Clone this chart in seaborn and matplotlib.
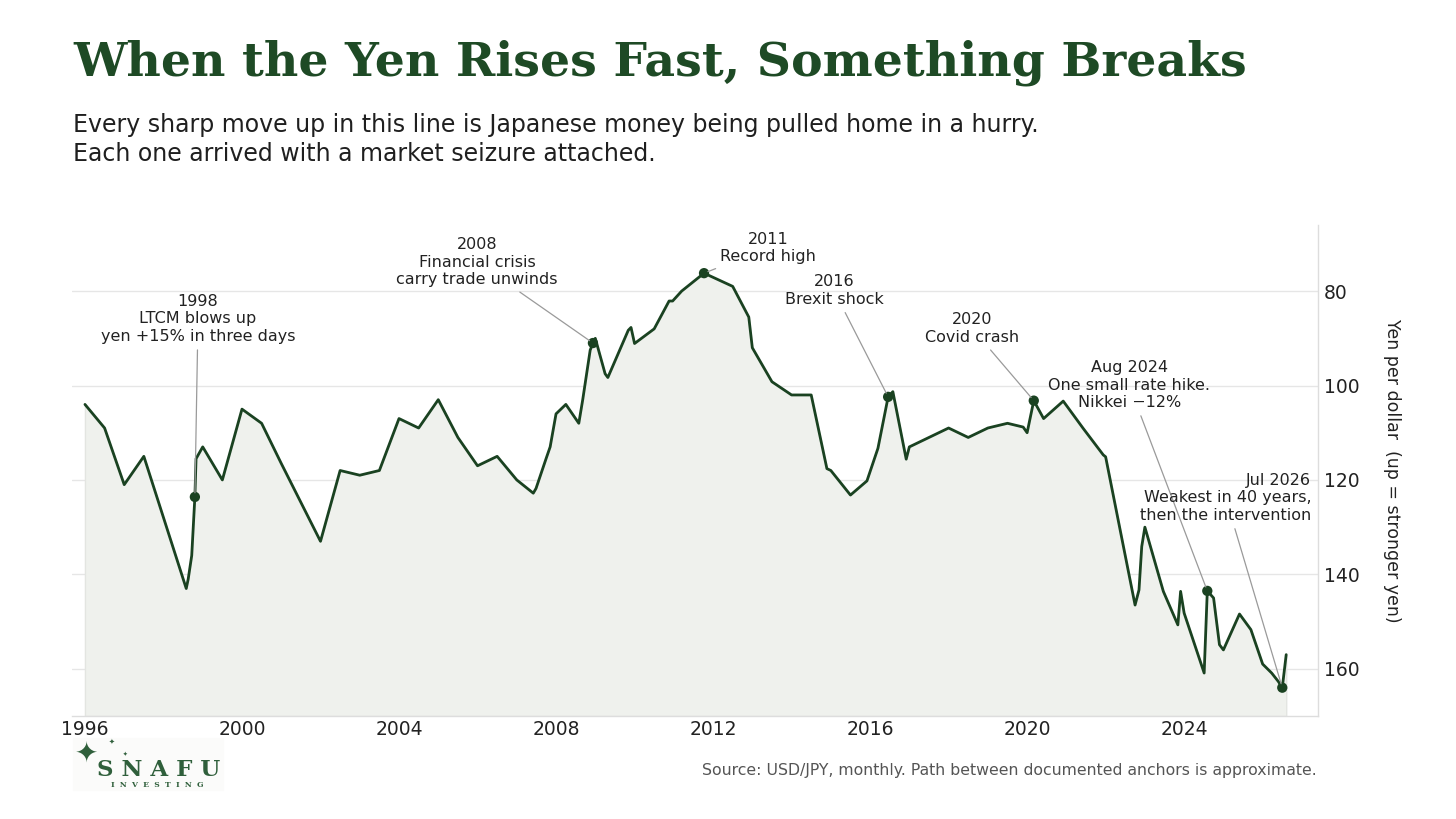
import pandas as pd
import seaborn as sns
import matplotlib.pyplot as plt

# USD/JPY path (decimal years, yen per dollar)
years = [1996.0, 1996.5, 1997.0, 1997.5, 1998.58, 1998.63, 1998.72, 1998.8, 1998.83, 1999.0,
         1999.5, 2000.0, 2000.5, 2001.0, 2002.0, 2002.5, 2003.0, 2003.5, 2004.0, 2004.5,
         2005.0, 2005.5, 2006.0, 2006.5, 2007.0, 2007.42, 2007.49, 2007.75, 2007.85, 2008.0,
         2008.25, 2008.58, 2008.68, 2008.87, 2008.94, 2009.0, 2009.25, 2009.32, 2009.84, 2009.91,
         2010.0, 2010.5, 2010.88, 2010.97, 2011.2, 2011.77, 2012.5, 2012.91, 2013.0, 2013.5,
         2014.0, 2014.5, 2014.9, 2015.0, 2015.5, 2015.92, 2016.2, 2016.46, 2016.58, 2016.92,
         2017.0, 2018.0, 2018.5, 2019.0, 2019.5, 2019.9, 2020.0, 2020.17, 2020.42, 2020.92,
         2021.43, 2021.94, 2022.0, 2022.75, 2022.85, 2022.92, 2023.0, 2023.47, 2023.84, 2023.91,
         2024.0, 2024.51, 2024.59, 2024.75, 2024.9, 2025.0, 2025.41, 2025.7, 2026.0, 2026.23,
         2026.4, 2026.5, 2026.6]
yen = [104, 109, 121, 115, 143, 141, 136, 123.6, 115.5, 113,
       120, 105, 108, 116.5, 133, 118, 119, 118, 107, 109,
       103, 111, 117, 115, 120, 122.8, 121.8, 115.4, 113, 106,
       104, 108, 103, 92.5, 91, 90, 97.5, 98.3, 88.3, 87.7,
       91.1, 88, 82.1, 82.1, 80, 76.2, 79, 85.5, 92, 99.2,
       102, 102, 117.6, 118, 123.2, 120.2, 113.3, 102.4, 101.3, 115.6,
       113, 109, 111, 109, 108, 108.8, 110, 103.2, 107, 103.3,
       109.1, 114.7, 115.1, 146.5, 143.3, 134.1, 130, 143.6, 150.7, 143.6,
       148.2, 160.9, 143.5, 145, 154.9, 156, 148.4, 151.7, 159, 160.9,
       162.7, 164, 157]

# marked events
event_x = [1998.8, 2008.94, 2011.77, 2016.46, 2020.17, 2024.59, 2026.5]
event_y = [123.6, 91, 76.2, 102.4, 103.2, 143.5, 164]
event_labels = [
    "1998\nLTCM blows up\nyen +15% in three days",
    "2008\nFinancial crisis\ncarry trade unwinds",
    "2011\nRecord high",
    "2016\nBrexit shock",
    "2020\nCovid crash",
    "Aug 2024\nOne small rate hike.\nNikkei \u221212%",
    "Jul 2026\nWeakest in 40 years,\nthen the intervention",
]

x_ticks = [1996, 2000, 2004, 2008, 2012, 2016, 2020, 2024]
y_ticks = [80, 100, 120, 140, 160]

# label placement (data coords) and alignment
label_pos = [(1998.88, 85.9), (2005.99, 73.9), (2013.4, 70.9), (2015.08, 79.9),
             (2018.6, 87.9), (2022.6, 99.9), (2027.24, 123.8)]
label_ha = ['center'] * 6 + ['right']

green = '#1a4221'
title_green = '#1e4a25'
logo_green = '#2f5f3b'

sns.set_theme(style='white')
plt.rcParams['font.family'] = ['DejaVu Sans']

df = pd.DataFrame({'year': years, 'yen': yen})

fig = plt.figure(figsize=(14.56, 8.19), dpi=100)
ax = fig.add_axes([72 / 1456, 1 - 716 / 819, 1246 / 1456, 491 / 819])

y_bottom = 170
ax.fill_between(df['year'], df['yen'], y_bottom, color='#eff1ed', edgecolor='#e3e5e1', lw=1, zorder=1)
sns.lineplot(data=df, x='year', y='yen', ax=ax, color=green, lw=2.0, zorder=3)
sns.scatterplot(x=event_x, y=event_y, ax=ax, color=green, s=55, edgecolor='none', zorder=4)

for lab, xy, pos, ha in zip(event_labels, zip(event_x, event_y), label_pos, label_ha):
    ax.annotate(lab, xy=xy, xytext=pos, ha=ha, va='center', multialignment=ha,
                fontsize=11.5, color='#222222', zorder=5,
                arrowprops=dict(arrowstyle='-', color='#9a9a9a', lw=0.9, shrinkB=3))

ax.set_xlim(1995.67, 2027.41)
ax.set_ylim(y_bottom, 66)
ax.set_xticks(x_ticks)
ax.set_xticklabels([str(t) for t in x_ticks])
ax.set_yticks(y_ticks)
ax.yaxis.tick_right()
ax.yaxis.set_label_position('right')
ax.tick_params(axis='both', length=0, labelsize=13.5, colors='#222222')
ax.tick_params(axis='y', pad=4)
ax.tick_params(axis='x', pad=3)
ax.set_xlabel('')
ax.set_ylabel('Yen per dollar  (up = stronger yen)', rotation=270, fontsize=12.5,
              color='#222222', labelpad=30)
ax.grid(axis='y', color='#e6e6e6', lw=1)
ax.set_axisbelow(True)
for side in ['left', 'top']:
    ax.spines[side].set_visible(False)
for side in ['right', 'bottom']:
    ax.spines[side].set_color('#dddddd')
    ax.spines[side].set_linewidth(1)

# titles
fig.text(73 / 1456, 1 - 76 / 819, 'When the Yen Rises Fast, Something Breaks',
         family='DejaVu Serif', weight='bold', fontsize=34.1, color=title_green, va='baseline')
fig.text(73 / 1456, 1 - 161 / 819,
         'Every sharp move up in this line is Japanese money being pulled home in a hurry.\n'
         'Each one arrived with a market seizure attached.',
         fontsize=17, color='#1f1f1f', va='baseline', linespacing=1.25)
fig.text(1317 / 1456, 1 - 771 / 819,
         'Source: USD/JPY, monthly. Path between documented anchors is approximate.',
         fontsize=11.3, color='#555555', ha='right', va='center')

# logo
fig.patches.append(plt.Rectangle((73 / 1456, 1 - 790 / 819), 150 / 1456, 52 / 819,
                                 transform=fig.transFigure, color='#fbfbfa', zorder=0))
fig.text(86 / 1456, 1 - 753 / 819, '\u2726', fontsize=20, color=logo_green, ha='center', va='center')
fig.text(112 / 1456, 1 - 742 / 819, '\u2726', fontsize=5, color=logo_green, ha='center', va='center')
fig.text(125 / 1456, 1 - 754 / 819, '\u2726', fontsize=4, color=logo_green, ha='center', va='center')
fig.text(97 / 1456, 1 - 770 / 819, 'S N A F U', family='DejaVu Serif', weight='bold',
         fontsize=16.5, color=logo_green, va='center')
fig.text(111 / 1456, 1 - 785 / 819, 'I  N  V  E  S  T  I  N  G', family='DejaVu Serif', weight='bold',
         fontsize=5.5, color=logo_green, va='center')

plt.savefig('out.png', dpi=100)
